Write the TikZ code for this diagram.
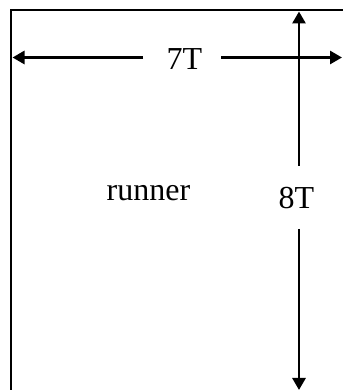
\documentclass[tikz,border=0pt]{standalone}
\usepackage{fontspec}
\setmainfont{Liberation Serif}
\usetikzlibrary{arrows.meta}
\begin{document}
\begin{tikzpicture}[x=1pt,y=1pt,
  dimline/.style={line width=2.8pt,-{Triangle[length=12pt,width=13pt]}},
  frameline/.style={line width=2.8pt},
  lbl/.style={font=\fontsize{32}{36}\selectfont,anchor=base,inner sep=0pt}]
\useasboundingbox (0,0) rectangle (342,390);
% frame (left and top sides)
\draw[frameline] (11,-2) -- (11,380) -- (344,380);
% labels
\node[lbl] (w) at (184.5,320) {7T};
\node[lbl] (h) at (296.5,181) {8T};
\node[lbl] (r) at (148.5,189) {runner};
% width dimension
\coordinate (wl) at (143,332.5);
\coordinate (wr) at (221,332.5);
\coordinate (wL) at (12.5,332.5);
\coordinate (wR) at (342,332.5);
\draw[dimline] (wl) -- (wL);
\draw[dimline] (wr) -- (wR);
% height dimension
\coordinate (ht) at (299,224);
\coordinate (hb) at (299,161);
\coordinate (hT) at (299,378.5);
\coordinate (hB) at (299,0);
\draw[dimline] (ht) -- (hT);
\draw[dimline] (hb) -- (hB);
\end{tikzpicture}
\end{document}
